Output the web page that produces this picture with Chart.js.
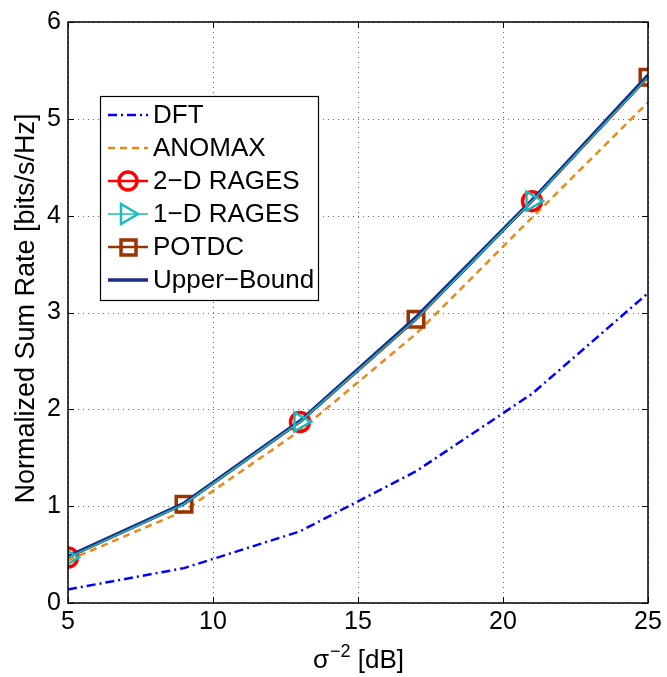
<!DOCTYPE html>
<html>
<head>
<meta charset="utf-8">
<script src="https://cdn.jsdelivr.net/npm/chart.js@4"></script>
<style>
  html, body { margin: 0; padding: 0; background: #fff; }
  #wrap { width: 667px; height: 677px; }
</style>
</head>
<body>
<div id="wrap"><canvas id="chart" width="667" height="677"></canvas></div>
<script>
// Data
const snrDb = [5, 9, 13, 17, 21, 25];
const dftRate = [0.14, 0.36, 0.74, 1.36, 2.16, 3.2];
const anomaxRate = [0.44, 0.95, 1.78, 2.78, 3.98, 5.17];
const rages2dRate = [0.47, 1.02, 1.87, 2.93, 4.15, 5.43];
const rages1dRate = [0.47, 1.02, 1.87, 2.93, 4.15, 5.43];
const potdcRate = [0.47, 1.02, 1.87, 2.93, 4.15, 5.43];
const upperRate = [0.48, 1.03, 1.88, 2.95, 4.16, 5.45];
const xTicks = [5, 10, 15, 20, 25];
const yTicks = [0, 1, 2, 3, 4, 5, 6];

const FONT = "'Liberation Sans', Arial, Helvetica, sans-serif";

function pts(ys) {
  return snrDb.map((x, i) => ({ x: x, y: ys[i] }));
}

// markers only on some points (like MATLAB plotting with sparse markers)
const evenMarks = [1, 0, 1, 0, 1, 0];
const oddMarks = [0, 1, 0, 1, 0, 1];

const datasets = [
  {
    label: "DFT", data: pts(dftRate),
    borderColor: "#0000ff", borderWidth: 2.5, borderDash: [9, 4, 2, 4],
    pointRadius: 0, order: 5
  },
  {
    label: "ANOMAX", data: pts(anomaxRate),
    borderColor: "#e8891c", borderWidth: 2.5, borderDash: [7, 5],
    pointRadius: 0, order: 4
  },
  {
    label: "2\u2212D RAGES", data: pts(rages2dRate),
    borderColor: "#ff0000", borderWidth: 2.5,
    pointStyle: "circle", pointRadius: evenMarks.map(m => m * 9.5),
    pointBorderWidth: 3.5, pointBorderColor: "#ff0000", pointBackgroundColor: "rgba(0,0,0,0)",
    order: 3
  },
  {
    label: "POTDC", data: pts(potdcRate),
    borderColor: "#9c3300", borderWidth: 2.5,
    pointStyle: "rect", pointRadius: oddMarks.map(m => m * 11),
    pointBorderWidth: 3.5, pointBorderColor: "#9c3300", pointBackgroundColor: "rgba(0,0,0,0)",
    order: 2
  },
  {
    label: "Upper\u2212Bound", data: pts(upperRate),
    borderColor: "#1c2f88", borderWidth: 3.5,
    pointRadius: 0, order: 1
  },
  {
    label: "1\u2212D RAGES", data: pts(rages1dRate),
    borderColor: "#17bdbd", borderWidth: 1.5,
    pointStyle: "triangle", pointRotation: 90, pointRadius: evenMarks.map(m => m * 11),
    pointBorderWidth: 2.5, pointBorderColor: "#17bdbd", pointBackgroundColor: "rgba(0,0,0,0)",
    order: 0
  }
];

// legend order as in the figure
const legendOrder = ["DFT", "ANOMAX", "2\u2212D RAGES", "1\u2212D RAGES", "POTDC", "Upper\u2212Bound"];
const legendMarker = {
  "2\u2212D RAGES": "circle", "1\u2212D RAGES": "triangle", "POTDC": "rect"
};

// Frame, dotted grid, inward ticks, axis titles
const framePlugin = {
  id: "frame",
  beforeDatasetsDraw(chart) {
    const { ctx, chartArea: a, scales } = chart;
    ctx.save();
    ctx.strokeStyle = "#666";
    ctx.lineWidth = 1;
    ctx.setLineDash([1, 4]);
    xTicks.forEach(v => {
      const px = Math.round(scales.x.getPixelForValue(v)) + 0.5;
      ctx.beginPath(); ctx.moveTo(px, a.top); ctx.lineTo(px, a.bottom); ctx.stroke();
    });
    yTicks.forEach(v => {
      const py = Math.round(scales.y.getPixelForValue(v)) + 0.5;
      ctx.beginPath(); ctx.moveTo(a.left, py); ctx.lineTo(a.right, py); ctx.stroke();
    });
    ctx.restore();
  },
  afterDatasetsDraw(chart) {
    const { ctx, chartArea: a, scales } = chart;
    ctx.save();
    ctx.setLineDash([]);
    ctx.strokeStyle = "#000";
    ctx.lineWidth = 1.5;
    ctx.strokeRect(a.left, a.top, a.right - a.left, a.bottom - a.top);
    ctx.lineWidth = 1;
    const t = 6;
    xTicks.forEach(v => {
      const px = Math.round(scales.x.getPixelForValue(v)) + 0.5;
      ctx.beginPath();
      ctx.moveTo(px, a.bottom); ctx.lineTo(px, a.bottom - t);
      ctx.moveTo(px, a.top); ctx.lineTo(px, a.top + t);
      ctx.stroke();
    });
    yTicks.forEach(v => {
      const py = Math.round(scales.y.getPixelForValue(v)) + 0.5;
      ctx.beginPath();
      ctx.moveTo(a.left, py); ctx.lineTo(a.left + t, py);
      ctx.moveTo(a.right, py); ctx.lineTo(a.right - t, py);
      ctx.stroke();
    });

    // y title
    ctx.fillStyle = "#000";
    ctx.font = "27px " + FONT;
    ctx.textAlign = "center";
    ctx.textBaseline = "middle";
    ctx.save();
    ctx.translate(27, (a.top + a.bottom) / 2 - 4);
    ctx.rotate(-Math.PI / 2);
    ctx.fillText("Normalized Sum Rate [bits/s/Hz]", 0, 0);
    ctx.restore();

    // x title with superscript
    ctx.textAlign = "left";
    ctx.textBaseline = "alphabetic";
    const big = "26px " + FONT, small = "18px " + FONT;
    const p1 = "\u03c3", p2 = "\u22122", p3 = " [dB]";
    ctx.font = big; const w1 = ctx.measureText(p1).width, w3 = ctx.measureText(p3).width;
    ctx.font = small; const w2 = ctx.measureText(p2).width;
    let x = (a.left + a.right) / 2 - (w1 + w2 + w3) / 2;
    const base = 668;
    ctx.font = big; ctx.fillText(p1, x, base); x += w1 + 1;
    ctx.font = small; ctx.fillText(p2, x, base - 11); x += w2;
    ctx.font = big; ctx.fillText(p3, x, base);
    ctx.restore();
  }
};

// MATLAB-style legend box inside the axes
const legendPlugin = {
  id: "boxLegend",
  afterDraw(chart) {
    const ctx = chart.ctx;
    const box = { left: 100, top: 96, right: 318, bottom: 300 };
    ctx.save();
    ctx.fillStyle = "#fff";
    ctx.fillRect(box.left, box.top, box.right - box.left, box.bottom - box.top);
    ctx.strokeStyle = "#000";
    ctx.lineWidth = 1.2;
    ctx.strokeRect(box.left + 0.5, box.top + 0.5, box.right - box.left, box.bottom - box.top);

    ctx.font = "26px " + FONT;
    ctx.textBaseline = "middle";
    legendOrder.forEach((name, i) => {
      const ds = chart.data.datasets.find(d => d.label === name);
      const y = 115 + i * 33;
      ctx.strokeStyle = ds.borderColor;
      ctx.lineWidth = ds.borderWidth;
      ctx.setLineDash(ds.borderDash || []);
      ctx.beginPath(); ctx.moveTo(108, y); ctx.lineTo(148, y); ctx.stroke();
      ctx.setLineDash([]);
      const mk = legendMarker[name];
      if (mk) {
        ctx.strokeStyle = ds.pointBorderColor;
        ctx.lineWidth = ds.pointBorderWidth;
        ctx.beginPath();
        if (mk === "circle") {
          ctx.arc(128, y, 9, 0, Math.PI * 2);
        } else if (mk === "triangle") {
          ctx.moveTo(138, y); ctx.lineTo(121, y - 10); ctx.lineTo(121, y + 10); ctx.closePath();
        } else {
          ctx.rect(121, y - 7, 15, 15);
        }
        ctx.stroke();
      }
      ctx.fillStyle = "#000";
      ctx.fillText(name, 153, y + 1);
    });
    ctx.restore();
  }
};

new Chart(document.getElementById("chart"), {
  type: "line",
  data: { datasets: datasets },
  options: {
    responsive: false,
    animation: false,
    layout: { padding: { top: 18, right: 19, left: 0, bottom: 0 } },
    plugins: { legend: { display: false }, tooltip: { enabled: false } },
    elements: { line: { tension: 0 } },
    scales: {
      x: {
        type: "linear", min: 5, max: 25,
        afterBuildTicks: s => { s.ticks = xTicks.map(v => ({ value: v })); },
        afterFit: s => { s.height = 74; },
        grid: { display: false, drawTicks: false },
        border: { display: false },
        ticks: { color: "#000", font: { size: 25, family: FONT }, padding: 4, maxRotation: 0 },
        title: { display: false }
      },
      y: {
        min: 0, max: 6,
        afterBuildTicks: s => { s.ticks = yTicks.map(v => ({ value: v })); },
        afterFit: s => { s.width = 68; },
        grid: { display: false, drawTicks: false },
        border: { display: false },
        ticks: { color: "#000", font: { size: 25, family: FONT }, padding: 7 },
        title: { display: false }
      }
    }
  },
  plugins: [framePlugin, legendPlugin]
});
</script>
</body>
</html>
